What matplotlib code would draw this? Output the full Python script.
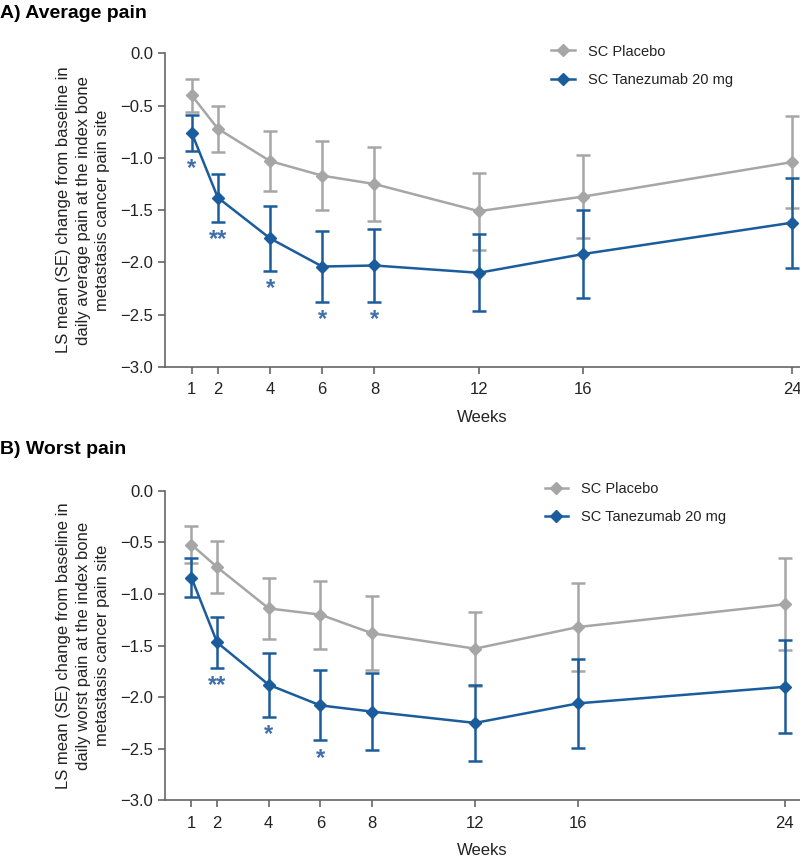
import matplotlib.pyplot as plt
from matplotlib.lines import Line2D
import numpy as np

plt.rcParams['font.family'] = ['Liberation Sans', 'DejaVu Sans']

weeks = [1, 2, 4, 6, 8, 12, 16, 24]
tick_labels = ['1', '2', '4', '6', '8', '12', '16', '24']

# A) average pain
avg_placebo = [-0.40, -0.72, -1.03, -1.17, -1.25, -1.51, -1.37, -1.04]
avg_placebo_se = [0.16, 0.22, 0.29, 0.33, 0.35, 0.37, 0.40, 0.44]
avg_tan = [-0.76, -1.38, -1.77, -2.04, -2.03, -2.10, -1.92, -1.62]
avg_tan_se = [0.17, 0.23, 0.31, 0.34, 0.35, 0.37, 0.42, 0.43]
avg_stars = ['*', '**', '*', '*', '*', '', '', '']

# B) worst pain
worst_placebo = [-0.52, -0.74, -1.14, -1.20, -1.38, -1.53, -1.32, -1.10]
worst_placebo_se = [0.18, 0.25, 0.30, 0.33, 0.36, 0.36, 0.43, 0.445]
worst_tan = [-0.84, -1.47, -1.88, -2.08, -2.14, -2.25, -2.06, -1.90]
worst_tan_se = [0.19, 0.245, 0.31, 0.34, 0.375, 0.37, 0.43, 0.45]
worst_stars = ['', '**', '*', '*', '', '', '', '']

grey = '#a6a6a6'
blue = '#1a5c9c'
star_blue = '#3f6faa'
spine_col = '#666666'
txt = '#222222'

fig = plt.figure(figsize=(8, 8.57), dpi=100)


def panel(rect, title, title_y, ylab, placebo, placebo_se, tan, tan_se, stars, xmax, leg_anchor):
    ax = fig.add_axes(rect)
    ax.errorbar(weeks, placebo, yerr=placebo_se, color=grey, marker='D', markersize=6.5,
                lw=1.8, elinewidth=1.8, capsize=5, capthick=1.8)
    ax.errorbar(weeks, tan, yerr=tan_se, color=blue, marker='D', markersize=6.5,
                lw=1.8, elinewidth=1.8, capsize=5, capthick=1.8)
    lows = np.array(tan) - np.array(tan_se)
    for w, lo, s in zip(weeks, lows, stars):
        if s:
            ax.annotate(s, (w, lo), xytext=(0, -17.5), textcoords='offset points',
                        ha='center', va='baseline', color=star_blue, fontsize=17,
                        fontweight='bold')
    ax.set_xlim(-0.03, xmax)
    ax.set_ylim(-3.0, 0.0)
    ax.set_xticks(weeks)
    ax.set_xticklabels(tick_labels)
    ax.set_yticks(np.arange(-3.0, 0.01, 0.5))
    ax.yaxis.set_major_formatter(plt.FuncFormatter(lambda v, p: f'{v:.1f}'.replace('-', '\u2212')))
    for s in ['top', 'right']:
        ax.spines[s].set_visible(False)
    for s in ['left', 'bottom']:
        ax.spines[s].set_color(spine_col)
        ax.spines[s].set_linewidth(1.2)
    ax.tick_params(colors=spine_col, labelcolor=txt, labelsize=12, length=5, width=1.2)
    ax.tick_params(axis='x', pad=6)
    ax.set_xlabel('Weeks', fontsize=12, color=txt, labelpad=9)
    ax.set_ylabel(ylab, fontsize=12, color=txt, labelpad=7, linespacing=1.38)
    handles = [Line2D([], [], color=grey, marker='D', markersize=6.5, lw=1.8),
               Line2D([], [], color=blue, marker='D', markersize=6.5, lw=1.8)]
    leg = ax.legend(handles, ['SC Placebo', 'SC Tanezumab 20 mg'], loc='upper left',
                    bbox_to_anchor=leg_anchor, bbox_transform=fig.transFigure,
                    frameon=False, fontsize=10.5, borderpad=0, handlelength=1.6,
                    handletextpad=0.9, labelspacing=1.0, borderaxespad=0)
    for t in leg.get_texts():
        t.set_color(txt)
    fig.text(0.0, title_y, title, fontsize=14, fontweight='bold', va='center', ha='left')
    return ax


panel([0.206, 0.572, 0.794, 0.3656], 'A) Average pain', 1 - 13 / 857,
      'LS mean (SE) change from baseline in\ndaily average pain at the index bone\nmetastasis cancer pain site',
      avg_placebo, avg_placebo_se, avg_tan, avg_tan_se, avg_stars, 24.3, (0.689, 0.948))

panel([0.206, 0.0662, 0.794, 0.361], 'B) Worst pain', 1 - 449 / 857,
      'LS mean (SE) change from baseline in\ndaily worst pain at the index bone\nmetastasis cancer pain site',
      worst_placebo, worst_placebo_se, worst_tan, worst_tan_se, worst_stars, 24.6, (0.681, 0.438))

fig.savefig('out.png', dpi=100)
